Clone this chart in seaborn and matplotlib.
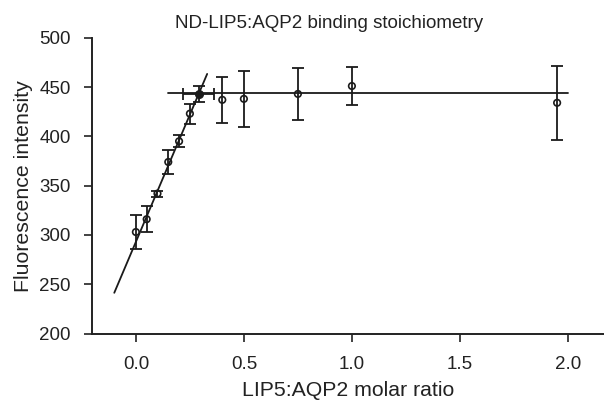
import matplotlib
matplotlib.use("Agg")
import matplotlib.pyplot as plt
import seaborn as sns
import numpy as np
import pandas as pd

# Data
ratio = [0.0, 0.05, 0.10, 0.15, 0.20, 0.25, 0.40, 0.50, 0.75, 1.00, 1.95]
intensity = [303, 316, 342, 374, 395, 423, 437, 438, 443, 451, 434]
intensity_err = [17, 13, 3, 12.5, 6, 10, 23, 28.5, 26.5, 19, 37.5]

# Intersection (stoichiometry) point
cross_x = [0.29]
cross_y = [443]
cross_xerr = [0.073]
cross_yerr = [8]

# Linear fit of the rising part and plateau level
fit_slope = 516.0
fit_intercept = 293.0
fit_x = [-0.10, 0.33]
plateau_level = 443.5
plateau_x = [0.147, 2.0]

sns.set_style("ticks")
plt.rcParams['font.family'] = ['Liberation Sans', 'DejaVu Sans']

fig = plt.figure(figsize=(6.04, 4.01), dpi=100)
ax = fig.add_axes([0.152, 0.168, 0.848, 0.738])

dark = "#1a1a1a"
txt = "#222222"

df_fit = pd.DataFrame({"x": fit_x, "y": [fit_intercept + fit_slope * v for v in fit_x]})
sns.lineplot(data=df_fit, x="x", y="y", ax=ax, color=dark, lw=1.3)
df_plat = pd.DataFrame({"x": plateau_x, "y": [plateau_level] * len(plateau_x)})
sns.lineplot(data=df_plat, x="x", y="y", ax=ax, color=dark, lw=1.3)

ax.errorbar(ratio, intensity, yerr=intensity_err, fmt="none", ecolor=dark,
            elinewidth=1.3, capsize=4, capthick=1.3, zorder=3)
df = pd.DataFrame({"ratio": ratio, "intensity": intensity})
sns.scatterplot(data=df, x="ratio", y="intensity", ax=ax, s=22, marker="o",
                facecolor="none", edgecolor=dark, linewidth=1.2, zorder=4)

ax.errorbar(cross_x, cross_y, xerr=cross_xerr, yerr=cross_yerr, fmt="o",
            color=dark, ms=5.5, elinewidth=1.3, capsize=4, capthick=1.3, zorder=5)

ax.set_xlim(-0.204, 2.167)
ax.set_ylim(200, 500)
ax.set_xticks([0.0, 0.5, 1.0, 1.5, 2.0])
ax.set_xticklabels(["0.0", "0.5", "1.0", "1.5", "2.0"])
ax.set_yticks([200, 250, 300, 350, 400, 450, 500])
ax.tick_params(axis="both", labelsize=13.5, colors=txt, length=6, width=1.2,
               labelcolor=txt)
ax.tick_params(axis="x", pad=10)
ax.tick_params(axis="y", pad=9)
for sp in ["left", "bottom"]:
    ax.spines[sp].set_color(txt)
    ax.spines[sp].set_linewidth(1.4)
sns.despine(ax=ax)

ax.set_xlabel("LIP5:AQP2 molar ratio", fontsize=15.3, color=txt, labelpad=6)
ax.set_ylabel("Fluorescence intensity", fontsize=15.3, color=txt, labelpad=5)
fig.text(329 / 604, 1 - 28 / 401, "ND-LIP5:AQP2 binding stoichiometry",
         fontsize=13.5, color=txt, ha="center", va="baseline")

fig.savefig("out.png", dpi=100)
